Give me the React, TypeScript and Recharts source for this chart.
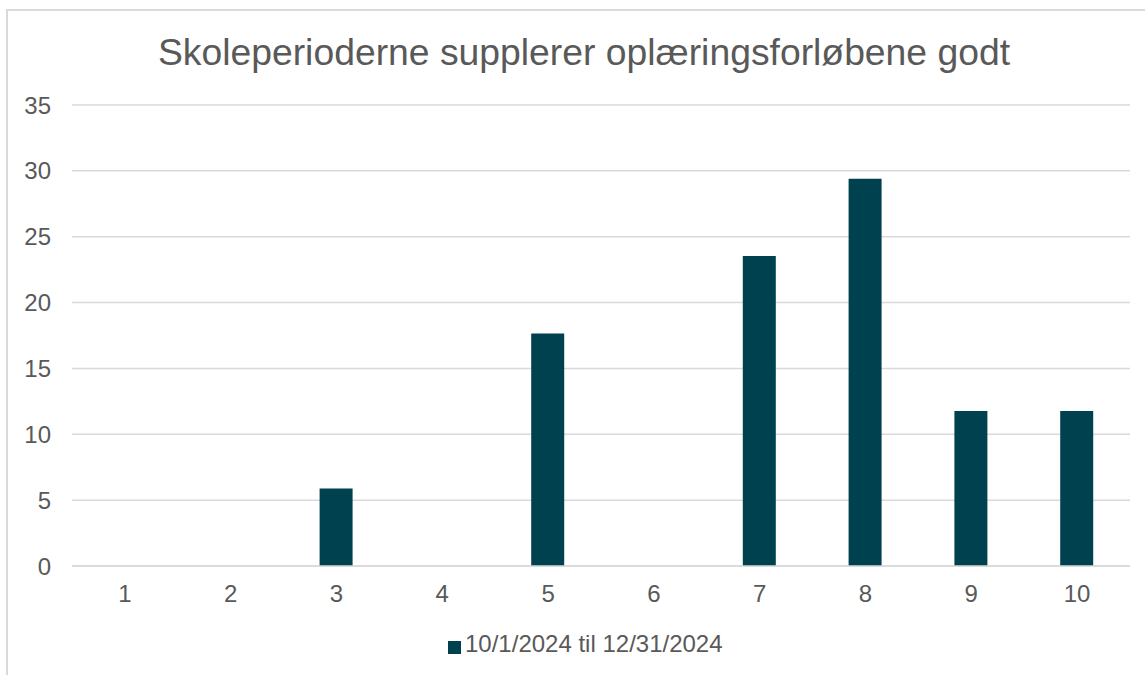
import React from 'react';
import { BarChart, Bar, XAxis, YAxis, CartesianGrid, Legend } from 'recharts';

const categories = ['1', '2', '3', '4', '5', '6', '7', '8', '9', '10'];
const values = [0, 0, 5.88, 0, 17.65, 0, 23.53, 29.41, 11.76, 11.76];
const yTicks = [0, 5, 10, 15, 20, 25, 30, 35];
const seriesName = '10/1/2024 til 12/31/2024';
const title = 'Skoleperioderne supplerer oplæringsforløbene godt';

const data = categories.map((c, i) => ({ name: c, value: values[i] }));

const font = '"Liberation Sans", Arial, sans-serif';
const textColor = '#595959';
const gridColor = '#d9d9d9';

export default function App() {
  return (
    <div
      style={{
        position: 'fixed',
        left: 0,
        top: 0,
        width: 1145,
        height: 675,
        overflow: 'hidden',
        background: '#fff',
        fontFamily: font,
      }}
    >
      {/* chart frame, only the left and top edges are visible */}
      <div
        style={{
          position: 'absolute',
          left: 6,
          top: 9,
          width: 1200,
          height: 700,
          border: `2px solid ${gridColor}`,
        }}
      />
      <div
        style={{
          position: 'absolute',
          left: 0,
          top: 28,
          width: 1168,
          textAlign: 'center',
          fontSize: 37.3,
          color: textColor,
          lineHeight: '48px',
        }}
      >
        {title}
      </div>
      <div style={{ position: 'absolute', left: 0, top: 0 }}>
        <BarChart
          width={1145}
          height={675}
          data={data}
          margin={{ top: 105, right: 15, bottom: 51, left: 12 }}
        >
          <CartesianGrid vertical={false} stroke={gridColor} strokeWidth={1.5} />
          <XAxis
            dataKey="name"
            axisLine={{ stroke: gridColor, strokeWidth: 1.5 }}
            tickLine={false}
            tickSize={0}
            tickMargin={19}
            tick={{ fill: textColor, fontSize: 24, fontFamily: font }}
          />
          <YAxis
            width={60}
            domain={[0, 35]}
            ticks={yTicks}
            axisLine={false}
            tickLine={false}
            tickSize={0}
            tickMargin={21}
            tick={{ fill: textColor, fontSize: 24, fontFamily: font }}
          />
          <Legend
            iconType="square"
            iconSize={13}
            wrapperStyle={{ left: 448, top: 630, width: 'auto', textAlign: 'left' }}
            formatter={(v) => (
              <span style={{ color: textColor, fontSize: 24, fontFamily: font }}>{v}</span>
            )}
          />
          <Bar
            dataKey="value"
            name={seriesName}
            fill="#00414F"
            barSize={33}
            isAnimationActive={false}
          />
        </BarChart>
      </div>
    </div>
  );
}
